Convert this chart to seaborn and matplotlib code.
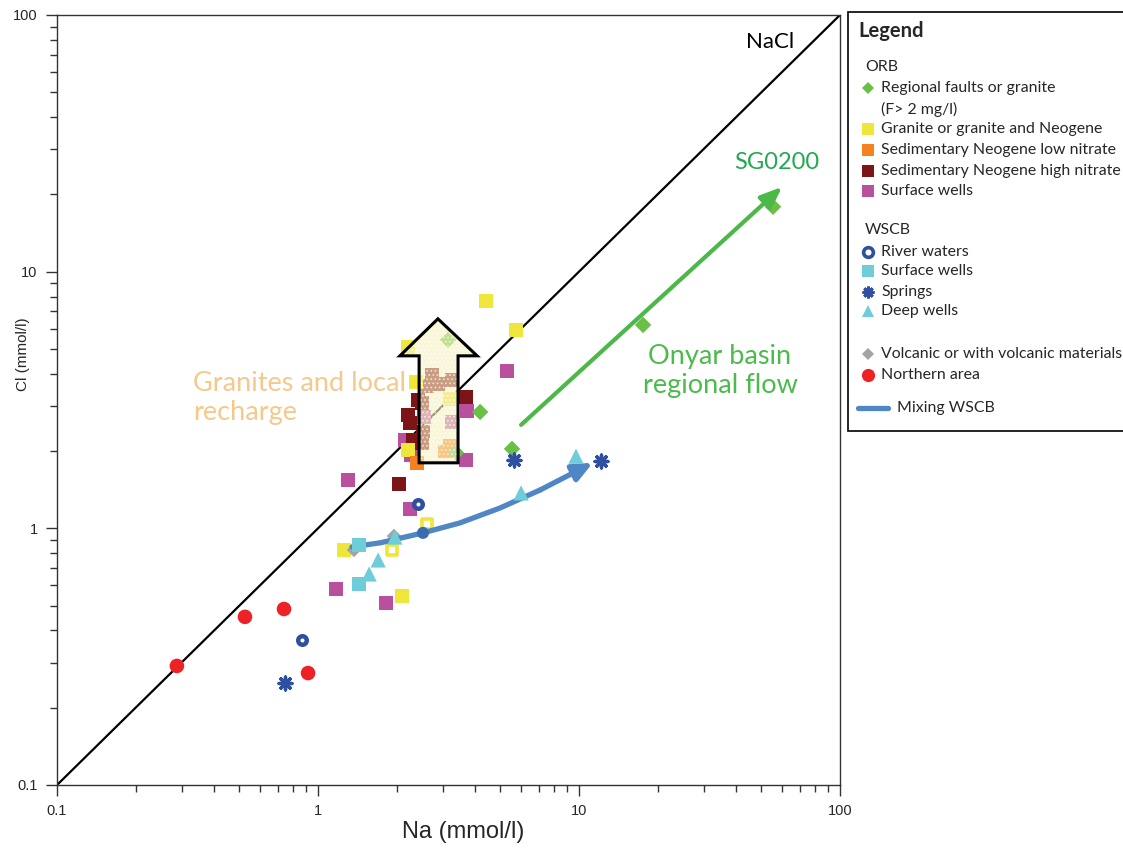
import matplotlib
matplotlib.use("Agg")
import matplotlib.pyplot as plt
import seaborn as sns
import numpy as np
from matplotlib.lines import Line2D
from matplotlib.patches import Polygon, Rectangle
from matplotlib.ticker import LogLocator, NullFormatter

# ---------------- data (Na, Cl in mmol/l) ----------------
na_faults = [3.15, 4.18, 5.54, 3.38, 17.6, 55.4]
cl_faults = [5.42, 2.84, 2.04, 1.97, 6.20, 17.9]

na_granite = [4.40, 5.74, 2.21, 2.37, 3.20, 2.21, 1.26, 2.10]
cl_granite = [7.69, 5.93, 5.09, 3.72, 3.19, 2.02, 0.824, 0.545]
na_granite_open = [2.62, 1.92]
cl_granite_open = [1.04, 0.824]

na_sed_low = [2.39, 3.07, 3.20]
cl_sed_low = [1.80, 1.99, 2.10]

na_sed_high = [2.73, 2.62, 2.88, 3.26, 2.50, 2.42, 2.21, 2.25, 2.53, 2.50, 2.31, 3.69, 2.04]
cl_sed_high = [3.96, 3.59, 3.65, 3.79, 3.08, 3.16, 2.77, 2.57, 2.38, 2.15, 2.21, 3.25, 1.49]

na_orb_surf = [1.30, 2.15, 2.25, 1.17, 1.82, 3.72, 3.69, 5.30, 2.55, 3.26, 2.27]
cl_orb_surf = [1.545, 2.21, 1.19, 0.581, 0.512, 2.87, 1.85, 4.10, 2.72, 2.60, 1.93]

na_river = [0.866, 2.416]
cl_river = [0.367, 1.245]
na_mix_pt = [2.525]
cl_mix_pt = [0.96]

na_wscb_surf = [1.436, 1.436]
cl_wscb_surf = [0.862, 0.607]

na_springs = [0.747, 5.63, 12.1]
cl_springs = [0.250, 1.85, 1.83]

na_deep = [1.97, 1.70, 1.57, 6.0, 9.74]
cl_deep = [0.925, 0.753, 0.664, 1.374, 1.91]

na_volc = [1.374, 1.955]
cl_volc = [0.824, 0.933]

na_north = [0.288, 0.525, 0.741, 0.916]
cl_north = [0.291, 0.452, 0.485, 0.273]

# mixing WSCB curve
na_mix = [1.35, 1.73, 2.525, 3.50, 4.98, 7.09, 11.3]
cl_mix = [0.847, 0.878, 0.96, 1.05, 1.20, 1.41, 1.80]

# Onyar regional flow arrow (start, end)
na_flow = [6.0, 60.0]
cl_flow = [2.53, 21.4]

# "Granites and local recharge" hollow arrow outline
arrow_na = [2.44, 3.44, 3.44, 4.07, 2.88, 2.06, 2.44]
arrow_cl = [1.80, 1.80, 4.70, 4.70, 6.55, 4.70, 4.70]

x_ticks = [0.1, 1, 10, 100]
x_ticklabels = ["0.1", "1", "10", "100"]
y_ticks = [0.1, 1, 10, 100]
y_ticklabels = ["0.1", "1", "10", "100"]

legend_orb = ["Regional faults or granite", "(F> 2 mg/l)", "Granite or granite and Neogene",
              "Sedimentary Neogene low nitrate", "Sedimentary Neogene high nitrate", "Surface wells"]
legend_wscb = ["River waters", "Surface wells", "Springs", "Deep wells"]
legend_other = ["Volcanic or with volcanic materials", "Northern area"]

# ---------------- styling ----------------
C_GREEN = "#6abf45"
C_YELLOW = "#efe63c"
C_ORANGE = "#f58220"
C_DRED = "#7d1518"
C_MAG = "#b8509e"
C_CYAN = "#6fccd9"
C_BLUE = "#2f4f9f"
C_GRAY = "#a3a3a3"
C_RED = "#ec2227"
C_MIX = "#4f86c6"
C_FLOW = "#4cb848"

sns.set_style("ticks")
plt.rcParams["font.family"] = ["Liberation Sans", "DejaVu Sans"]
plt.rcParams["hatch.linewidth"] = 0.8

W, H = 1123, 848
fig = plt.figure(figsize=(W / 100, H / 100), dpi=100)
ax = fig.add_axes([57 / W, 1 - 785 / H, 783 / W, 770 / H])
ax.set_xscale("log")
ax.set_yscale("log")
ax.set_xlim(0.1, 100)
ax.set_ylim(0.1, 100)

# NaCl 1:1 line
sns.lineplot(x=[0.1, 100], y=[0.1, 100], color="black", lw=1.6, ax=ax, zorder=2)

def sq(x, y, color, s=95, z=3):
    sns.scatterplot(x=x, y=y, marker="s", color=color, s=s, edgecolor="none", ax=ax, zorder=z)

sq(na_orb_surf, cl_orb_surf, C_MAG)
sq(na_sed_high, cl_sed_high, C_DRED)
sq(na_granite, cl_granite, C_YELLOW)
sq(na_sed_low, cl_sed_low, C_ORANGE)
sns.scatterplot(x=na_granite_open, y=cl_granite_open, marker="s", color="white",
                edgecolor=C_YELLOW, linewidth=2.6, s=60, ax=ax, zorder=3)
sns.scatterplot(x=na_faults, y=cl_faults, marker="D", color=C_GREEN, s=70,
                edgecolor="none", ax=ax, zorder=4)
sns.scatterplot(x=na_north, y=cl_north, marker="o", color=C_RED, s=110,
                edgecolor="none", ax=ax, zorder=3)
sns.scatterplot(x=na_volc, y=cl_volc, marker="D", color=C_GRAY, s=55,
                edgecolor="none", ax=ax, zorder=3)

# mixing curve (under WSCB markers)
sns.lineplot(x=na_mix[:-1], y=cl_mix[:-1], sort=False, color=C_MIX, lw=3.8, ax=ax, zorder=3.5)
ax.annotate("", xy=(na_mix[-1], cl_mix[-1]), xytext=(na_mix[-2], cl_mix[-2]),
            arrowprops=dict(arrowstyle="-|>,head_length=0.9,head_width=0.4", color=C_MIX,
                            lw=3.8, shrinkA=0, shrinkB=0, mutation_scale=13), zorder=3.6)

sq(na_wscb_surf, cl_wscb_surf, C_CYAN, z=4)
sns.scatterplot(x=na_deep, y=cl_deep, marker="^", color=C_CYAN, s=120,
                edgecolor="none", ax=ax, zorder=4)
sns.scatterplot(x=na_mix_pt, y=cl_mix_pt, marker="o", color="#3a6bb3", s=75,
                edgecolor="none", ax=ax, zorder=4)
sns.scatterplot(x=na_river, y=cl_river, marker="o", color="white", edgecolor=C_BLUE,
                linewidth=3.2, s=38, ax=ax, zorder=4)
sns.scatterplot(x=na_springs, y=cl_springs, marker=(8, 2, 0), color=C_BLUE,
                linewidth=2.4, s=85, ax=ax, zorder=4)

# regional flow arrow
ax.annotate("", xy=(na_flow[1], cl_flow[1]), xytext=(na_flow[0], cl_flow[0]),
            arrowprops=dict(arrowstyle="-|>,head_length=1.0,head_width=0.4", color=C_FLOW,
                            lw=3, shrinkA=0, shrinkB=0, mutation_scale=13), zorder=5)

# hollow recharge arrow
verts = list(zip(arrow_na, arrow_cl))
ax.add_patch(Polygon(verts, closed=True, facecolor="#f8f2c4", alpha=0.62,
                     edgecolor="none", zorder=6))
ax.add_patch(Polygon(verts, closed=True, fill=False, hatch="....", edgecolor="white",
                     lw=0, alpha=0.6, zorder=6.1))
ax.add_patch(Polygon(verts, closed=True, fill=False, edgecolor="black", lw=2.2,
                     joinstyle="miter", zorder=6.2))

# annotations
cal = ["Lato", "DejaVu Sans"]
def ftx(px, py):
    return ((px - 57) / 783, (785 - py) / 770)
ax.text(*ftx(770, 42), "NaCl", transform=ax.transAxes, ha="center", va="center",
        fontsize=16, family=cal, color="black")
ax.text(*ftx(777, 163), "SG0200", transform=ax.transAxes, ha="center", va="center",
        fontsize=17, family=cal, color="#22a950")
ax.text(*ftx(720, 371), "Onyar basin\nregional flow", transform=ax.transAxes, ha="center",
        va="center", fontsize=19.5, family=cal, color="#4cbb4c", linespacing=1.2)
ax.text(*ftx(193, 398), "Granites and local\nrecharge", transform=ax.transAxes, ha="left",
        va="center", fontsize=19.5, family=cal, color="#f5c98c", linespacing=1.2, zorder=1)

# axes styling
ax.set_xticks(x_ticks)
ax.set_xticklabels(x_ticklabels)
ax.set_yticks(y_ticks)
ax.set_yticklabels(y_ticklabels)
ax.xaxis.set_minor_locator(LogLocator(base=10, subs=np.arange(2, 10)))
ax.yaxis.set_minor_locator(LogLocator(base=10, subs=np.arange(2, 10)))
ax.xaxis.set_minor_formatter(NullFormatter())
ax.yaxis.set_minor_formatter(NullFormatter())
ax.tick_params(which="major", direction="out", length=8, width=1, color="#333333",
               labelsize=10.5, pad=6)
ax.tick_params(which="minor", direction="out", length=5, width=1, color="#333333")
for sp in ax.spines.values():
    sp.set_color("#333333")
    sp.set_linewidth(1)
ax.set_xlabel("Na (mmol/l)", fontsize=17)
ax.set_ylabel("Cl (mmol/l)", fontsize=11)
ax.xaxis.set_label_coords((463 - 57) / 783, -0.047)
ax.yaxis.set_label_coords((30 - 57) / 783, (785 - 354) / 770)

# ---------------- legend (manual, in figure pixels) ----------------
def fp(px, py):
    return (px / W, 1 - py / H)

fig.patches.append(Rectangle(fp(848, 431), (1140 - 848) / W, (431 - 12) / H,
                             transform=fig.transFigure, facecolor="white",
                             edgecolor="black", lw=1.2, zorder=10, figure=fig))
LFS = 11.4
fig.text(*fp(858, 31), "Legend", fontsize=14.5, fontweight="bold", family=cal,
         va="center", ha="left", zorder=11)

def lmark(py, **kw):
    fig.add_artist(Line2D([868 / W], [1 - py / H], transform=fig.transFigure,
                          linestyle="none", zorder=11, **kw))

def ltext(px, py, s):
    fig.text(*fp(px, py), s, fontsize=LFS, family=cal, va="center", ha="left", zorder=11)

ltext(865, 67, "ORB")
orb_y = [88, 109, 129, 150, 171, 191]
orb_marks = [dict(marker="D", color=C_GREEN, markersize=6.2, markeredgewidth=0),
             None,
             dict(marker="s", color=C_YELLOW, markersize=8, markeredgewidth=0),
             dict(marker="s", color=C_ORANGE, markersize=8, markeredgewidth=0),
             dict(marker="s", color=C_DRED, markersize=8, markeredgewidth=0),
             dict(marker="s", color=C_MAG, markersize=8, markeredgewidth=0)]
for lab, py, mk in zip(legend_orb, orb_y, orb_marks):
    if mk is not None:
        lmark(py, **mk)
    ltext(881, py, lab)

ltext(865, 230, "WSCB")
wscb_y = [252, 271, 292, 311]
wscb_marks = [dict(marker="o", markerfacecolor="white", markeredgecolor=C_BLUE,
                   markersize=7, markeredgewidth=2.6),
              dict(marker="s", color=C_CYAN, markersize=8, markeredgewidth=0),
              dict(marker=(8, 2, 0), color=C_BLUE, markersize=8.5, markeredgewidth=2.0),
              dict(marker="^", color=C_CYAN, markersize=9, markeredgewidth=0)]
for lab, py, mk in zip(legend_wscb, wscb_y, wscb_marks):
    lmark(py, **mk)
    ltext(881, py, lab)

other_y = [354, 375]
other_marks = [dict(marker="D", color=C_GRAY, markersize=6.2, markeredgewidth=0),
               dict(marker="o", color=C_RED, markersize=9.5, markeredgewidth=0)]
for lab, py, mk in zip(legend_other, other_y, other_marks):
    lmark(py, **mk)
    ltext(881, py, lab)

fig.add_artist(Line2D([858 / W, 888 / W], [1 - 408 / H] * 2, transform=fig.transFigure,
                      color=C_MIX, lw=3.8, zorder=11))
ltext(897, 408, "Mixing WSCB")

fig.savefig("out.png", dpi=100)
